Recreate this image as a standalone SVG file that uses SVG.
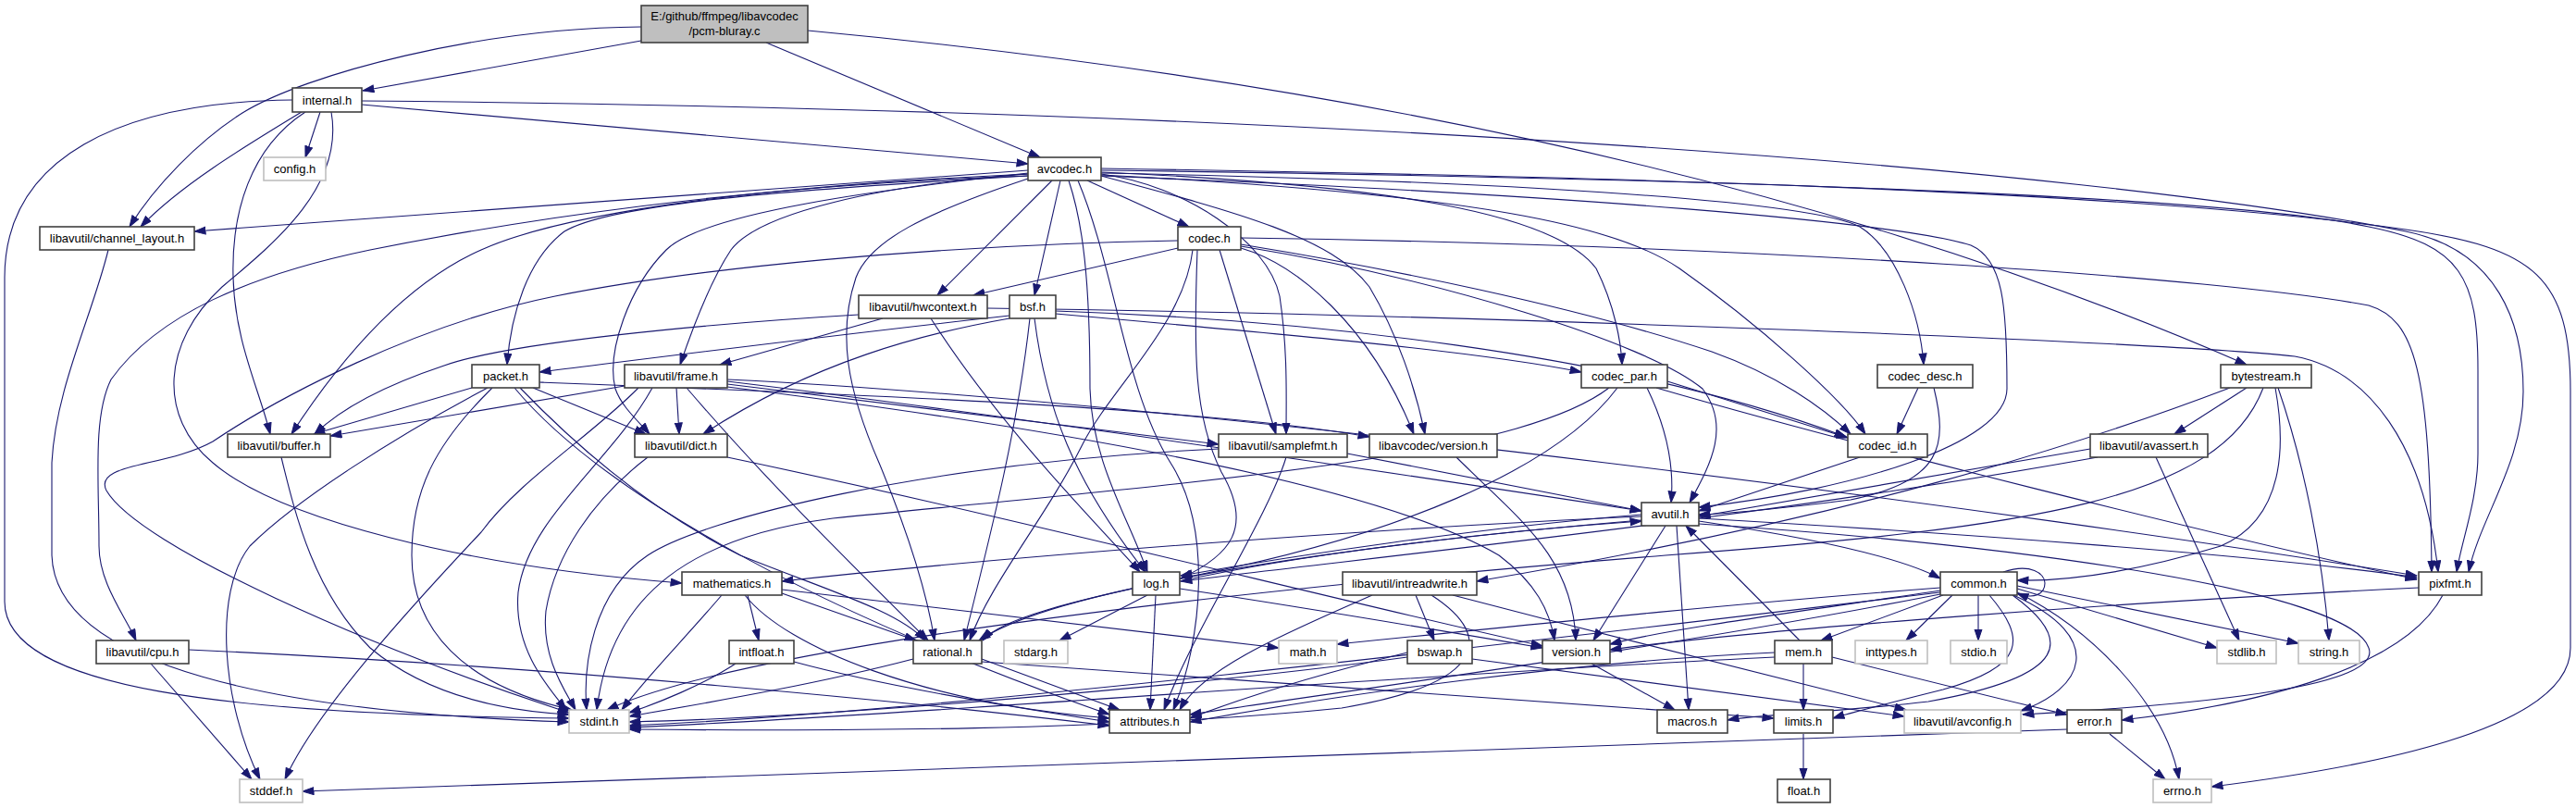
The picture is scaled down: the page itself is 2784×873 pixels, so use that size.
<svg xmlns="http://www.w3.org/2000/svg" width="2784" height="873" viewBox="0 0 2784 873">
<style>
.node rect{fill:#ffffff;stroke:#404040;stroke-width:1.6}
.node.ext rect{stroke:#bfbfbf}
.node.root rect{fill:#bfbfbf}
.node text{font-family:"Liberation Sans",Arial,sans-serif;font-size:13px;fill:#000;text-anchor:middle}
#edges path{fill:none;stroke:#191970;stroke-width:1.1;marker-end:url(#arr)}
</style>
<defs>
<marker id="arr" markerUnits="userSpaceOnUse" markerWidth="13" markerHeight="10" refX="12.5" refY="4.5" orient="auto">
<path d="M0.5,0.5 L12.5,4.5 L0.5,8.5 z" fill="#191970" stroke="#191970" stroke-width="1"/>
</marker>
</defs>
<rect x="0" y="0" width="2784" height="873" fill="#ffffff"/>
<g id="edges">
<path d="M693,44 L392,98"/>
<path d="M693,29 C520,30 330,80 262,122 C215,152 168,200 140,245"/>
<path d="M828,46 L1124,170"/>
<path d="M873,33 Q1800,120 2428,394"/>
<path d="M346,121 L330,170"/>
<path d="M326,121 C265,158 195,200 152,245"/>
<path d="M316,108 C130,110 5,170 5,300 L5,650 C5,745 250,772 615,776"/>
<path d="M330,121 C270,160 250,230 252,300 C254,370 280,420 292,469"/>
<path d="M358,121 C372,200 300,260 240,310 C175,370 170,450 230,500 C300,560 500,612 737,630"/>
<path d="M391,113 L1111,177"/>
<path d="M391,109 C1400,118 2250,180 2600,250 C2700,270 2727,350 2727,423 C2727,500 2680,560 2668,618"/>
<path d="M1190,182 C1700,190 2300,205 2600,248 C2740,268 2778,300 2778,423 L2778,700 C2778,790 2550,830 2390,850"/>
<path d="M1190,184 C1800,192 2400,210 2560,245 C2660,265 2678,300 2678,400 L2678,490 C2678,540 2660,585 2655,618"/>
<path d="M1111,184 L210,250"/>
<path d="M1111,190 C800,200 550,240 400,270 C270,297 170,340 120,410 C100,450 107,520 107,590 C107,630 135,665 147,692"/>
<path d="M1111,188 C850,200 620,225 520,270 C430,310 360,400 315,469"/>
<path d="M1111,190 C850,205 660,220 610,250 C570,280 552,340 548,394"/>
<path d="M1111,188 C950,200 820,230 790,270 C770,300 750,350 735,394"/>
<path d="M1111,187 C950,205 760,230 720,270 C680,310 655,380 665,420 C672,440 690,455 702,469"/>
<path d="M1137,195 L1013,319"/>
<path d="M1146,195 L1118,319"/>
<path d="M1111,193 C1000,230 940,260 925,300 C905,360 915,420 950,500 C975,560 1000,630 1010,692"/>
<path d="M1155,195 C1170,240 1178,300 1178,420 C1180,500 1220,560 1240,618"/>
<path d="M1165,195 C1205,290 1215,420 1265,500 C1310,570 1300,690 1268,767"/>
<path d="M1190,188 C1280,200 1370,260 1383,320 C1392,380 1390,430 1390,469"/>
<path d="M1190,190 C1340,230 1440,257 1480,310 C1510,360 1530,420 1540,469"/>
<path d="M1175,195 L1285,245"/>
<path d="M1190,186 C1500,200 1680,230 1725,290 C1745,330 1752,370 1753,394"/>
<path d="M1190,187 C1600,195 1950,215 2010,245 C2050,270 2075,340 2079,394"/>
<path d="M1190,189 C1600,210 1750,245 1815,290 C1900,350 1990,430 2016,469"/>
<path d="M1190,190 C1700,210 2050,240 2130,265 C2165,280 2169,330 2169,420 C2169,480 2000,530 1836,548"/>
<path d="M1273,268 L1052,319"/>
<path d="M1273,260 C1000,265 750,290 600,320 C450,350 300,430 230,477 C180,505 100,500 115,530 C150,590 400,700 615,770"/>
<path d="M1289,270 C1280,350 1200,420 1170,480 C1130,560 1070,630 1048,692"/>
<path d="M1294,270 C1290,380 1290,450 1320,510 C1355,570 1330,600 1276,625"/>
<path d="M1318,270 L1379,469"/>
<path d="M1341,268 C1400,285 1480,350 1528,469"/>
<path d="M1341,264 C1500,290 1700,330 1850,380 C1920,405 1970,440 2000,469"/>
<path d="M1341,266 C1550,300 1780,370 1840,420 C1870,460 1850,500 1826,543"/>
<path d="M1341,257 C1900,265 2400,300 2560,330 C2610,345 2626,400 2628,618"/>
<path d="M928,340 C760,350 550,370 480,395 C420,415 370,440 340,469"/>
<path d="M954,344 L778,394"/>
<path d="M1006,344 C1080,460 1180,560 1232,618"/>
<path d="M1067,333 C1600,340 2350,370 2480,385 C2560,400 2620,480 2635,618"/>
<path d="M1091,341 C900,362 720,385 583,402"/>
<path d="M1091,344 C1000,360 880,390 760,469"/>
<path d="M1113,344 C1100,460 1075,560 1042,692"/>
<path d="M1118,344 C1130,440 1160,520 1238,618"/>
<path d="M1141,336 C1400,345 1750,380 1995,472"/>
<path d="M1141,339 C1400,362 1600,380 1709,402"/>
<path d="M510,419 L339,469"/>
<path d="M576,419 L698,469"/>
<path d="M527,419 C430,470 320,540 270,590 C230,640 240,760 281,842"/>
<path d="M532,419 C470,480 445,530 445,600 C445,680 500,740 618,767"/>
<path d="M556,419 C640,520 850,650 1199,772"/>
<path d="M562,419 C640,500 720,560 800,600 C900,640 970,660 1000,692"/>
<path d="M583,413 C900,425 1300,440 1480,472"/>
<path d="M675,417 L357,471"/>
<path d="M731,419 L734,469"/>
<path d="M690,419 C640,470 560,520 520,575 C440,660 340,770 308,842"/>
<path d="M705,419 C660,500 570,560 560,640 C555,700 590,740 612,767"/>
<path d="M786,412 C1100,450 1500,510 1774,552"/>
<path d="M786,418 C1200,470 1500,530 1620,600 C1660,630 1675,660 1680,692"/>
<path d="M786,415 L1317,480"/>
<path d="M742,419 C820,510 900,590 1003,692"/>
<path d="M786,410 C1300,435 2200,555 2612,622"/>
<path d="M1739,419 C1640,495 1300,520 900,560 C750,580 660,640 645,767"/>
<path d="M1748,419 C1680,510 1500,580 1300,620 C1150,650 1080,670 1062,692"/>
<path d="M1780,419 C1800,460 1810,500 1806,543"/>
<path d="M1802,412 L1997,473"/>
<path d="M1790,419 C2000,480 2400,580 2612,626"/>
<path d="M2073,419 L2050,469"/>
<path d="M2090,419 C2105,480 2100,520 2000,540 C1920,550 1870,555 1836,556"/>
<path d="M2010,494 L1836,552"/>
<path d="M2428,419 L2350,469"/>
<path d="M2410,419 C2250,480 2000,560 1596,628"/>
<path d="M2459,419 C2470,480 2470,560 2400,590 C2300,620 2230,628 2180,627"/>
<path d="M2462,419 C2490,500 2510,600 2517,692"/>
<path d="M2446,419 C2400,540 2200,570 1800,600 C1300,640 800,700 656,767"/>
<path d="M2330,494 L2420,692"/>
<path d="M2259,485 L1836,558"/>
<path d="M2267,494 C1900,560 1500,600 1276,628"/>
<path d="M304,494 C320,560 340,640 400,700 C460,750 540,768 615,772"/>
<path d="M700,494 C640,540 600,600 590,660 C585,710 610,745 622,767"/>
<path d="M786,494 C1100,560 1450,650 1667,698"/>
<path d="M1456,490 L1774,552"/>
<path d="M1390,494 C1370,560 1290,680 1258,767"/>
<path d="M1317,485 C1000,500 760,560 700,600 C640,640 630,720 634,767"/>
<path d="M1574,494 C1640,560 1700,600 1703,692"/>
<path d="M117,270 C100,340 60,420 56,500 L56,600 C60,720 300,770 615,780"/>
<path d="M1836,563 C1950,580 2050,600 2097,625"/>
<path d="M1812,568 L1825,767"/>
<path d="M1800,568 L1722,692"/>
<path d="M1774,556 C1600,570 1400,600 1276,622"/>
<path d="M1774,562 C1500,585 1150,630 1058,692"/>
<path d="M1774,558 C1500,570 1100,600 845,628"/>
<path d="M1836,560 C2100,575 2450,600 2612,624"/>
<path d="M1836,566 C2200,590 2540,640 2560,700 C2575,740 2400,760 2186,772"/>
<path d="M1275,628 C1400,600 1600,575 1774,563"/>
<path d="M1240,643 L1145,692"/>
<path d="M1249,643 L1243,767"/>
<path d="M1275,636 C1400,655 1550,680 1667,700"/>
<path d="M780,643 C740,690 700,730 672,767"/>
<path d="M845,637 L1382,700"/>
<path d="M805,643 C850,700 1000,760 1199,776"/>
<path d="M845,641 L990,692"/>
<path d="M808,643 L820,692"/>
<path d="M1530,643 L1550,692"/>
<path d="M1570,643 C1750,690 1950,740 2060,767"/>
<path d="M1483,643 C1400,680 1300,720 1275,767"/>
<path d="M1547,643 C1620,690 1600,740 1450,765 C1200,790 900,790 680,788"/>
<path d="M2165,618 C2195,608 2210,620 2210,630 C2210,642 2198,648 2180,641"/>
<path d="M2138,643 L2138,692"/>
<path d="M2180,636 L2396,700"/>
<path d="M2180,633 L2484,695"/>
<path d="M2180,640 C2260,680 2340,760 2355,842"/>
<path d="M2176,643 C2280,690 2250,745 2184,768"/>
<path d="M2110,643 L2060,692"/>
<path d="M2100,643 L1968,692"/>
<path d="M2150,643 C2190,690 2190,720 2100,745 C2040,760 2000,770 1981,776"/>
<path d="M2175,643 C2240,690 2240,730 2084,758 C1980,770 1900,772 1867,778"/>
<path d="M2097,635 C1900,650 1700,670 1445,696"/>
<path d="M2097,638 C1950,660 1800,680 1740,696"/>
<path d="M2097,642 C1800,700 1500,740 1286,772"/>
<path d="M2097,640 C1600,700 1000,770 680,784"/>
<path d="M1945,692 L1822,568"/>
<path d="M1949,717 L1949,767"/>
<path d="M1918,705 C1700,715 1450,750 1286,780"/>
<path d="M1918,710 C1500,730 1000,772 680,786"/>
<path d="M1980,710 C2100,740 2180,760 2234,772"/>
<path d="M1720,717 L1810,767"/>
<path d="M987,712 C880,740 760,760 680,774"/>
<path d="M1061,712 L1210,767"/>
<path d="M1061,715 C1400,740 1700,760 1917,776"/>
<path d="M795,717 C760,740 710,760 680,770"/>
<path d="M858,715 C950,740 1100,765 1199,780"/>
<path d="M1521,710 C1300,740 900,775 680,780"/>
<path d="M1521,705 C1420,730 1340,755 1286,776"/>
<path d="M1591,712 C1800,740 1950,760 2058,774"/>
<path d="M163,717 L272,842"/>
<path d="M204,702 C600,720 1000,760 1199,784"/>
<path d="M2234,788 C1500,810 800,840 327,855"/>
<path d="M2280,793 L2340,842"/>
<path d="M1949,793 L1949,842"/>
<path d="M2614,635 C2300,650 1900,680 1740,702"/>
<path d="M2640,643 C2600,720 2450,760 2293,778"/>
</g>
<g id="n_root" class="node root"><rect x="693" y="6" width="180" height="40"/><text x="783" y="22">E:/github/ffmpeg/libavcodec</text><text x="783" y="38">/pcm-bluray.c</text></g>
<g id="n_internal" class="node"><rect x="316" y="95" width="75" height="26"/><text x="353.5" y="112.5">internal.h</text></g>
<g id="n_config" class="node ext"><rect x="285" y="170" width="67" height="25"/><text x="318.5" y="187">config.h</text></g>
<g id="n_avcodec" class="node"><rect x="1111" y="170" width="79" height="25"/><text x="1150.5" y="187">avcodec.h</text></g>
<g id="n_channel_layout" class="node"><rect x="43" y="245" width="167" height="25"/><text x="126.5" y="262">libavutil/channel_layout.h</text></g>
<g id="n_codec" class="node"><rect x="1273" y="245" width="68" height="25"/><text x="1307" y="262">codec.h</text></g>
<g id="n_hwcontext" class="node"><rect x="928" y="319" width="139" height="25"/><text x="997.5" y="336">libavutil/hwcontext.h</text></g>
<g id="n_bsf" class="node"><rect x="1091" y="319" width="50" height="25"/><text x="1116" y="336">bsf.h</text></g>
<g id="n_packet" class="node"><rect x="510" y="394" width="73" height="25"/><text x="546.5" y="411">packet.h</text></g>
<g id="n_frame" class="node"><rect x="675" y="394" width="111" height="25"/><text x="730.5" y="411">libavutil/frame.h</text></g>
<g id="n_codec_par" class="node"><rect x="1709" y="394" width="93" height="25"/><text x="1755.5" y="411">codec_par.h</text></g>
<g id="n_codec_desc" class="node"><rect x="2029" y="394" width="103" height="25"/><text x="2080.5" y="411">codec_desc.h</text></g>
<g id="n_bytestream" class="node"><rect x="2400" y="394" width="98" height="25"/><text x="2449" y="411">bytestream.h</text></g>
<g id="n_buffer" class="node"><rect x="246" y="469" width="111" height="25"/><text x="301.5" y="486">libavutil/buffer.h</text></g>
<g id="n_dict" class="node"><rect x="686" y="469" width="100" height="25"/><text x="736" y="486">libavutil/dict.h</text></g>
<g id="n_samplefmt" class="node"><rect x="1317" y="469" width="139" height="25"/><text x="1386.5" y="486">libavutil/samplefmt.h</text></g>
<g id="n_lavc_version" class="node"><rect x="1480" y="469" width="138" height="25"/><text x="1549" y="486">libavcodec/version.h</text></g>
<g id="n_codec_id" class="node"><rect x="1997" y="469" width="86" height="25"/><text x="2040" y="486">codec_id.h</text></g>
<g id="n_avassert" class="node"><rect x="2259" y="469" width="127" height="25"/><text x="2322.5" y="486">libavutil/avassert.h</text></g>
<g id="n_avutil" class="node"><rect x="1774" y="543" width="62" height="25"/><text x="1805" y="560">avutil.h</text></g>
<g id="n_mathematics" class="node"><rect x="737" y="618" width="108" height="25"/><text x="791" y="635">mathematics.h</text></g>
<g id="n_log" class="node"><rect x="1224" y="618" width="51" height="25"/><text x="1249.5" y="635">log.h</text></g>
<g id="n_intreadwrite" class="node"><rect x="1451" y="618" width="145" height="25"/><text x="1523.5" y="635">libavutil/intreadwrite.h</text></g>
<g id="n_common" class="node"><rect x="2097" y="618" width="83" height="25"/><text x="2138.5" y="635">common.h</text></g>
<g id="n_pixfmt" class="node"><rect x="2614" y="618" width="68" height="25"/><text x="2648" y="635">pixfmt.h</text></g>
<g id="n_cpu" class="node"><rect x="104" y="692" width="100" height="25"/><text x="154" y="709">libavutil/cpu.h</text></g>
<g id="n_intfloat" class="node"><rect x="788" y="692" width="70" height="25"/><text x="823" y="709">intfloat.h</text></g>
<g id="n_rational" class="node"><rect x="987" y="692" width="74" height="25"/><text x="1024" y="709">rational.h</text></g>
<g id="n_stdarg" class="node ext"><rect x="1085" y="692" width="69" height="25"/><text x="1119.5" y="709">stdarg.h</text></g>
<g id="n_math" class="node ext"><rect x="1382" y="692" width="63" height="25"/><text x="1413.5" y="709">math.h</text></g>
<g id="n_bswap" class="node"><rect x="1521" y="692" width="70" height="25"/><text x="1556" y="709">bswap.h</text></g>
<g id="n_version" class="node"><rect x="1667" y="692" width="73" height="25"/><text x="1703.5" y="709">version.h</text></g>
<g id="n_mem" class="node"><rect x="1918" y="692" width="62" height="25"/><text x="1949" y="709">mem.h</text></g>
<g id="n_inttypes" class="node ext"><rect x="2005" y="692" width="78" height="25"/><text x="2044" y="709">inttypes.h</text></g>
<g id="n_stdio" class="node ext"><rect x="2108" y="692" width="61" height="25"/><text x="2138.5" y="709">stdio.h</text></g>
<g id="n_stdlib" class="node ext"><rect x="2396" y="692" width="64" height="25"/><text x="2428" y="709">stdlib.h</text></g>
<g id="n_string" class="node ext"><rect x="2484" y="692" width="66" height="25"/><text x="2517" y="709">string.h</text></g>
<g id="n_stdint" class="node ext"><rect x="615" y="767" width="65" height="25"/><text x="647.5" y="784">stdint.h</text></g>
<g id="n_attributes" class="node"><rect x="1199" y="767" width="87" height="25"/><text x="1242.5" y="784">attributes.h</text></g>
<g id="n_macros" class="node"><rect x="1791" y="767" width="76" height="25"/><text x="1829" y="784">macros.h</text></g>
<g id="n_limits" class="node"><rect x="1917" y="767" width="64" height="25"/><text x="1949" y="784">limits.h</text></g>
<g id="n_avconfig" class="node ext"><rect x="2058" y="767" width="126" height="25"/><text x="2121" y="784">libavutil/avconfig.h</text></g>
<g id="n_error" class="node"><rect x="2234" y="767" width="59" height="25"/><text x="2263.5" y="784">error.h</text></g>
<g id="n_stddef" class="node ext"><rect x="259" y="842" width="68" height="25"/><text x="293" y="859">stddef.h</text></g>
<g id="n_float" class="node"><rect x="1921" y="842" width="57" height="25"/><text x="1949.5" y="859">float.h</text></g>
<g id="n_errno" class="node ext"><rect x="2327" y="842" width="63" height="25"/><text x="2358.5" y="859">errno.h</text></g>
</svg>
